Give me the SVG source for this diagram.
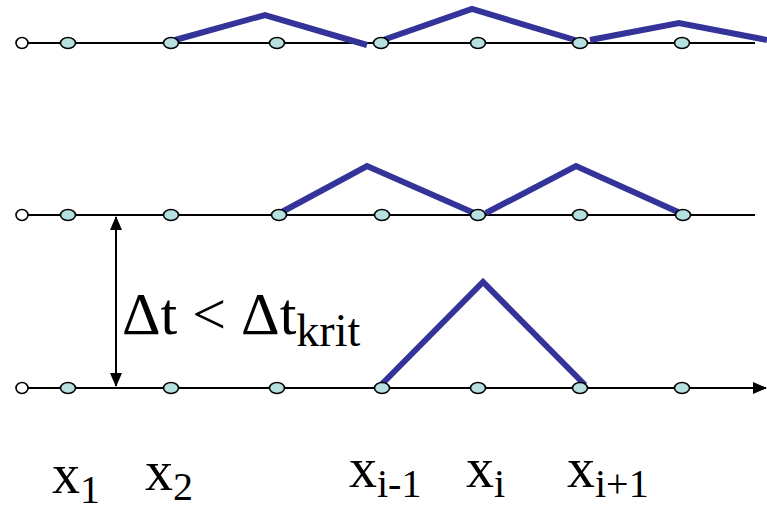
<svg xmlns="http://www.w3.org/2000/svg" width="767" height="508" viewBox="0 0 767 508">
<defs>
<marker id="ah" markerWidth="14" markerHeight="12" refX="13" refY="6" orient="auto" markerUnits="userSpaceOnUse"><path d="M0,0 L14,6 L0,12 Z" fill="#000"/></marker>
<marker id="as" markerWidth="14" markerHeight="12" refX="1" refY="6" orient="auto" markerUnits="userSpaceOnUse"><path d="M14,0 L0,6 L14,12 Z" fill="#000"/></marker>
</defs>
<style>
.axis{stroke:#000;stroke-width:2;fill:none}
.wave{stroke:#333399;stroke-width:6;fill:none;stroke-linejoin:miter}
.n{fill:#b7e0e0;stroke:#000;stroke-width:1.6}
.n0{fill:#fff;stroke:#000;stroke-width:1.6}
text{fill:#000;font-family:"Times New Roman","Liberation Serif",Tinos,"DejaVu Serif",serif}
</style>
<g id="connectors">
<line class="axis" x1="22" y1="43" x2="755" y2="43"/>
<line class="axis" x1="22" y1="215" x2="755" y2="215"/>
<line class="axis" x1="22" y1="388" x2="766" y2="388" marker-end="url(#ah)"/>
<line class="axis" x1="116" y1="217" x2="116" y2="386" marker-start="url(#as)" marker-end="url(#ah)"/>
</g>
<g id="wave-row1">
<polyline class="wave" points="175,40 265,15 367,45"/>
<polyline class="wave" points="383,40 472,9 575,40"/>
<polyline class="wave" points="590,40 679,23 767,40"/>
</g>
<g id="wave-row2">
<polyline class="wave" points="280,213 367,166 474,213"/>
<polyline class="wave" points="486,213 576,166 678,212"/>
</g>
<g id="wave-row3">
<polyline class="wave" points="380,386 483,282 585,385"/>
</g>
<g id="nodes-row1">
<ellipse class="n0" cx="22" cy="43" rx="6" ry="5.5"/>
<ellipse class="n" cx="68" cy="43" rx="7.5" ry="5.5"/>
<ellipse class="n" cx="171" cy="43" rx="7.5" ry="5.5"/>
<ellipse class="n" cx="277" cy="43" rx="7.5" ry="5.5"/>
<ellipse class="n" cx="381" cy="43" rx="7.5" ry="5.5"/>
<ellipse class="n" cx="478" cy="43" rx="7.5" ry="5.5"/>
<ellipse class="n" cx="580" cy="43" rx="7.5" ry="5.5"/>
<ellipse class="n" cx="682" cy="43" rx="7.5" ry="5.5"/>
</g>
<g id="nodes-row2">
<ellipse class="n0" cx="22" cy="215" rx="6" ry="5.5"/>
<ellipse class="n" cx="68" cy="215" rx="7.5" ry="5.5"/>
<ellipse class="n" cx="171" cy="215" rx="7.5" ry="5.5"/>
<ellipse class="n" cx="279" cy="215" rx="7.5" ry="5.5"/>
<ellipse class="n" cx="382" cy="215" rx="7.5" ry="5.5"/>
<ellipse class="n" cx="478" cy="215" rx="7.5" ry="5.5"/>
<ellipse class="n" cx="580" cy="215" rx="7.5" ry="5.5"/>
<ellipse class="n" cx="683" cy="215" rx="7.5" ry="5.5"/>
</g>
<g id="nodes-row3">
<ellipse class="n0" cx="22" cy="388" rx="6" ry="5.5"/>
<ellipse class="n" cx="68" cy="388" rx="7.5" ry="5.5"/>
<ellipse class="n" cx="171" cy="388" rx="7.5" ry="5.5"/>
<ellipse class="n" cx="277" cy="388" rx="7.5" ry="5.5"/>
<ellipse class="n" cx="382" cy="388" rx="7.5" ry="5.5"/>
<ellipse class="n" cx="478" cy="388" rx="7.5" ry="5.5"/>
<ellipse class="n" cx="580" cy="388" rx="7.5" ry="5.5"/>
<ellipse class="n" cx="682" cy="388" rx="7.5" ry="5.5"/>
</g>
<g id="label-dt">
<text x="122" y="334" font-size="60">Δt &lt; Δt<tspan font-size="46" dy="12">krit</tspan></text>
</g>
<g id="labels-x">
<text x="52" y="493" font-size="56">x<tspan font-size="40" dy="10">1</tspan></text>
<text x="145" y="490" font-size="56">x<tspan font-size="40" dy="10">2</tspan></text>
<text x="349" y="487" font-size="56">x<tspan font-size="40" dy="10">i-1</tspan></text>
<text x="466" y="487" font-size="56">x<tspan font-size="40" dy="10">i</tspan></text>
<text x="567" y="487" font-size="56">x<tspan font-size="40" dy="10">i+1</tspan></text>
</g>
</svg>
